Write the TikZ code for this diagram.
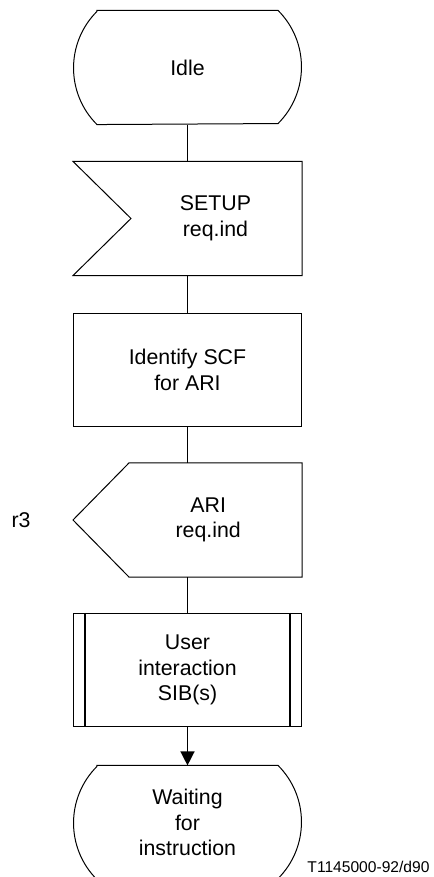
\documentclass[tikz,border=0pt]{standalone}
\usepackage{fontspec}
\setmainfont{Liberation Sans}
\usetikzlibrary{arrows.meta}

\begin{document}
\begin{tikzpicture}[x=0.75pt, y=0.75pt, line width=0.75pt,
  sym/.style={rectangle, minimum width=171pt, minimum height=84.85pt, inner sep=0pt},
  boxed/.style={sym, draw},
  txt/.style={align=center, inner sep=0pt, font=\fontsize{16}{19.2}\selectfont},
  note/.style={inner sep=0pt, font=\fontsize{11.7}{14}\selectfont},
  flow/.style={line width=1pt}]
\useasboundingbox (0,0) rectangle (433,877);

\node[sym, txt] (idle) at (187.5,809.5) {Idle};
\node[sym] (setup) at (187.5,658.5) {};
\node[txt] (setuptxt) at ([xshift=21pt]setup.center) {SETUP\\req.ind};
\node[boxed, txt] (ident) at (187.5,507) {Identify SCF\\for ARI};
\node[sym] (ari) at (187.5,357) {};
\node[txt] (aritxt) at ([xshift=15.5pt]ari.center) {ARI\\req.ind};
\node[txt] (r3) at (21,357) {r3};
\node[boxed, txt] (proc) at (187.5,207) {User\\interaction\\SIB(s)};
\node[sym, txt] (wait) at (187.5,54.5) {Waiting\\for\\instruction};
\node[note, anchor=base east] (fig) at (430,4) {T1145000-92/d90};

% state symbols
\foreach \s in {idle,wait}
  \draw ([xshift=-67.9pt]\s.north) -- ([xshift=67.9pt]\s.north)
    arc[start angle=45, end angle=-45, radius=60pt] -- ([xshift=-67.9pt]\s.south)
    arc[start angle=225, end angle=135, radius=60pt] -- cycle;
% input and output
\draw (setup.north west) -- (setup.north east) -- (setup.south east)
  -- (setup.south west) -- ([xshift=43.5pt]setup.west) -- cycle;
\draw ([xshift=42pt]ari.north west) -- (ari.north east) -- (ari.south east)
  -- ([xshift=42pt]ari.south west) -- (ari.west) -- cycle;
% procedure bars
\draw[line width=1pt] ([xshift=9pt]proc.north west) -- ([xshift=9pt]proc.south west);
\draw[line width=1pt] ([xshift=-9pt]proc.north east) -- ([xshift=-9pt]proc.south east);

\draw[flow] (idle.south) -- (setup.north);
\draw[flow] (setup.south) -- (ident.north);
\draw[flow] (ident.south) -- (ari.north);
\draw[flow] (ari.south) -- (proc.north);
\draw[flow, -{Triangle[length=10.5pt, width=10.5pt]}] (proc.south) -- (wait.north);
\end{tikzpicture}
\end{document}
